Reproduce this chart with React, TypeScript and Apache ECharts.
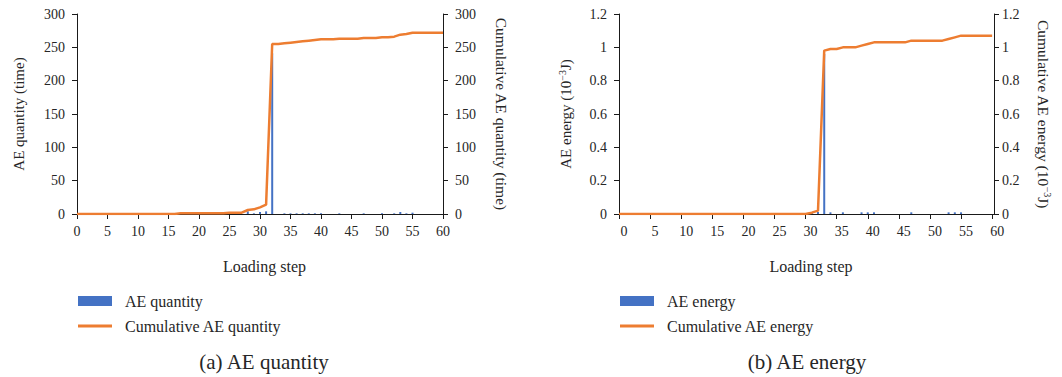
import React, { useEffect, useRef } from "react";
import * as echarts from "echarts";

const steps = [
  0, 1, 2, 3, 4, 5, 6, 7, 8, 9, 10, 11, 12, 13, 14, 15, 16, 17, 18, 19, 20,
  21, 22, 23, 24, 25, 26, 27, 28, 29, 30, 31, 32, 33, 34, 35, 36, 37, 38, 39, 40,
  41, 42, 43, 44, 45, 46, 47, 48, 49, 50, 51, 52, 53, 54, 55, 56, 57, 58, 59, 60,
];

const xTicks = [0, 5, 10, 15, 20, 25, 30, 35, 40, 45, 50, 55, 60];

// (a) AE quantity per loading step
const aeQuantity = [
  0, 0, 0, 0, 0, 0, 0, 0, 0, 0, 0, 0, 0, 0, 0, 0, 0, 1, 0, 0, 0,
  0, 0, 0, 0, 1, 0, 0, 4, 1, 3, 4, 241, 0, 1, 1, 1, 1, 1, 1, 1,
  0, 0, 1, 0, 0, 0, 1, 0, 0, 1, 0, 1, 3, 1, 2, 0, 0, 0, 0, 0,
];
const cumQuantity = [
  0, 0, 0, 0, 0, 0, 0, 0, 0, 0, 0, 0, 0, 0, 0, 0, 0, 1, 1, 1, 1,
  1, 1, 1, 1, 2, 2, 2, 6, 7, 10, 14, 255, 255, 256, 257, 258, 259, 260, 261, 262,
  262, 262, 263, 263, 263, 263, 264, 264, 264, 265, 265, 266, 269, 270, 272, 272, 272, 272, 272, 272,
];

// (b) AE energy per loading step (10^-3 J)
const aeEnergy = [
  0, 0, 0, 0, 0, 0, 0, 0, 0, 0, 0, 0, 0, 0, 0, 0, 0, 0, 0, 0, 0,
  0, 0, 0, 0, 0, 0, 0, 0, 0, 0, 0.008, 0.012, 0.96, 0.01, 0, 0.01, 0, 0, 0.01, 0.01,
  0.01, 0, 0, 0, 0, 0, 0.01, 0, 0, 0, 0, 0, 0.01, 0.01, 0.01, 0, 0, 0, 0, 0,
];
const cumEnergy = [
  0, 0, 0, 0, 0, 0, 0, 0, 0, 0, 0, 0, 0, 0, 0, 0, 0, 0, 0, 0, 0,
  0, 0, 0, 0, 0, 0, 0, 0, 0, 0, 0.008, 0.02, 0.98, 0.99, 0.99, 1.0, 1.0, 1.0, 1.01, 1.02,
  1.03, 1.03, 1.03, 1.03, 1.03, 1.03, 1.04, 1.04, 1.04, 1.04, 1.04, 1.04, 1.05, 1.06, 1.07, 1.07, 1.07, 1.07, 1.07, 1.07,
];

const FONT = "Liberation Serif, serif";
const TEXT = "#262626";
const AXIS = "#1a1a1a";
const BLUE = "#4472C4";
const ORANGE = "#ED7D31";
const LINE_ICON = "path://M0,0H34V3H0Z";

const pairs = (vals: number[]) => steps.map((s, i) => [s, vals[i]]);

export default function App() {
  const ref = useRef<HTMLDivElement>(null);
  useEffect(() => {
    if (!ref.current) return;
    const chart = echarts.init(ref.current, null, { renderer: "svg" });

    const axisLine = { show: true, lineStyle: { color: AXIS, width: 1 } };
    const tickLabel = { color: TEXT, fontFamily: FONT, fontSize: 14 };

    const xAxisBase = (grid: number, max: number, shift: number) => ({
      type: "value",
      gridIndex: grid,
      min: 0,
      max,
      name: "Loading step",
      nameLocation: "middle",
      nameGap: 44,
      nameTextStyle: { color: TEXT, fontFamily: FONT, fontSize: 16, padding: [0, 0, 0, 9] },
      axisLine,
      axisTick: { show: true, length: 5, lineStyle: { color: AXIS }, customValues: xTicks },
      axisLabel: { ...tickLabel, margin: 10, customValues: xTicks, padding: [0, 0, 0, shift] },
      splitLine: { show: false },
    });

    const yAxisBase = (grid: number, max: number, interval: number, position: string) => ({
      type: "value",
      gridIndex: grid,
      position,
      min: 0,
      max,
      interval,
      axisLine,
      axisTick: { show: true, length: 5, lineStyle: { color: AXIS } },
      axisLabel: { ...tickLabel, margin: 12 },
      splitLine: { show: false },
      nameLocation: "middle",
    });

    const supRich = { sup: { fontSize: 10, fontFamily: FONT, color: TEXT, padding: [0, 0, 8, 0] } };
    const legendText = { color: TEXT, fontFamily: FONT, fontSize: 16, lineHeight: 14, padding: [0, 0, 0, 8] };

    const option: any = {
      animation: false,
      backgroundColor: "#ffffff",
      textStyle: { fontFamily: FONT },
      grid: [
        { left: 77, right: 1062 - 443, top: 14, height: 200 },
        { left: 619, right: 1062 - 994, top: 14, height: 200 },
      ],
      xAxis: [xAxisBase(0, 60, 0), xAxisBase(1, 60.3, 10)],
      yAxis: [
        {
          ...yAxisBase(0, 300, 50, "left"),
          name: "AE quantity (time)",
          nameGap: 51,
          nameTextStyle: { color: TEXT, fontFamily: FONT, fontSize: 15 },
        },
        {
          ...yAxisBase(0, 300, 50, "right"),
          name: "Cumulative AE quantity (time)",
          nameGap: 50,
          nameRotate: -90,
          nameTextStyle: { color: TEXT, fontFamily: FONT, fontSize: 15.5 },
        },
        {
          ...yAxisBase(1, 1.2, 0.2, "left"),
          name: "AE energy (10{sup|−3}J)",
          nameGap: 44,
          nameTextStyle: { color: TEXT, fontFamily: FONT, fontSize: 15, rich: supRich },
        },
        {
          ...yAxisBase(1, 1.2, 0.2, "right"),
          name: "Cumulative AE energy (10{sup|−3}J)",
          nameGap: 40,
          nameRotate: -90,
          axisLabel: { ...tickLabel, margin: 8 },
          nameTextStyle: { color: TEXT, fontFamily: FONT, fontSize: 15.5, rich: supRich },
        },
      ],
      legend: [
        {
          orient: "vertical",
          left: 73,
          top: 288,
          itemWidth: 34,
          itemHeight: 10,
          itemGap: 9,
          symbolKeepAspect: true,
          data: [
            { name: "AE quantity", icon: "rect" },
            { name: "Cumulative AE quantity", icon: LINE_ICON },
          ],
          textStyle: legendText,
        },
        {
          orient: "vertical",
          left: 615,
          top: 288,
          itemWidth: 34,
          itemHeight: 10,
          itemGap: 9,
          symbolKeepAspect: true,
          data: [
            { name: "AE energy", icon: "rect" },
            { name: "Cumulative AE energy", icon: LINE_ICON },
          ],
          textStyle: legendText,
        },
      ],
      graphic: [
        {
          type: "text",
          x: 264,
          y: 362,
          style: { text: "(a) AE quantity", fontFamily: FONT, fontSize: 21, fill: TEXT, align: "center", verticalAlign: "middle" },
        },
        {
          type: "text",
          x: 807,
          y: 362,
          style: { text: "(b) AE energy", fontFamily: FONT, fontSize: 21, fill: TEXT, align: "center", verticalAlign: "middle" },
        },
      ],
      series: [
        {
          name: "AE quantity",
          type: "bar",
          xAxisIndex: 0,
          yAxisIndex: 0,
          barWidth: 2,
          itemStyle: { color: BLUE },
          data: pairs(aeQuantity),
        },
        {
          name: "Cumulative AE quantity",
          type: "line",
          xAxisIndex: 0,
          yAxisIndex: 1,
          symbol: "none",
          lineStyle: { color: ORANGE, width: 2.5 },
          itemStyle: { color: ORANGE },
          data: pairs(cumQuantity),
        },
        {
          name: "AE energy",
          type: "bar",
          xAxisIndex: 1,
          yAxisIndex: 2,
          barWidth: 2,
          itemStyle: { color: BLUE },
          data: pairs(aeEnergy),
        },
        {
          name: "Cumulative AE energy",
          type: "line",
          xAxisIndex: 1,
          yAxisIndex: 3,
          symbol: "none",
          lineStyle: { color: ORANGE, width: 2.5 },
          itemStyle: { color: ORANGE },
          data: pairs(cumEnergy),
        },
      ],
    };

    chart.setOption(option);
    return () => chart.dispose();
  }, []);

  return (
    <div
      ref={ref}
      style={{ position: "absolute", left: 0, top: 0, width: 1062, height: 377, background: "#fff" }}
    />
  );
}
